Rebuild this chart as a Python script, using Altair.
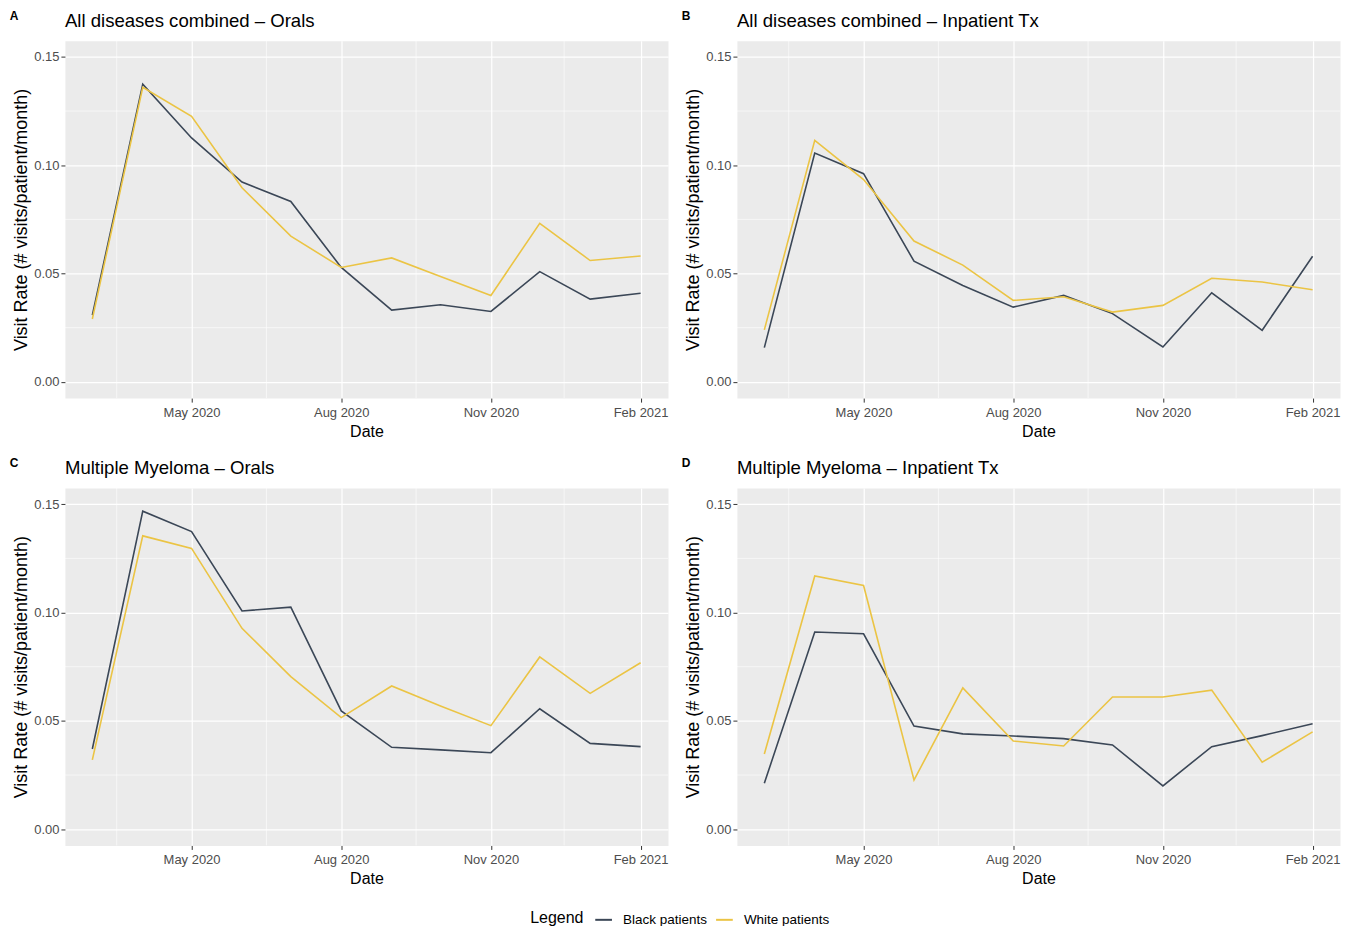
import altair as alt
import pandas as pd

# ---- data -------------------------------------------------------------
months = ["2020-03-01", "2020-04-01", "2020-05-01", "2020-06-01", "2020-07-01",
          "2020-08-01", "2020-09-01", "2020-10-01", "2020-11-01", "2020-12-01",
          "2021-01-01", "2021-02-01"]

a_black = [0.0308, 0.1374, 0.1126, 0.0922, 0.0833, 0.0528, 0.0331, 0.0356, 0.0325, 0.0509, 0.0382, 0.0409]
a_white = [0.0290, 0.1360, 0.1226, 0.0896, 0.0673, 0.0528, 0.0572, 0.0486, 0.0399, 0.0732, 0.0560, 0.0581]

b_black = [0.0158, 0.1056, 0.0961, 0.0557, 0.0445, 0.0345, 0.0399, 0.0315, 0.0161, 0.0411, 0.0238, 0.0580]
b_white = [0.0240, 0.1115, 0.0934, 0.0650, 0.0539, 0.0376, 0.0393, 0.0322, 0.0353, 0.0478, 0.0461, 0.0425]

c_black = [0.0370, 0.1468, 0.1374, 0.1007, 0.1025, 0.0546, 0.0378, 0.0366, 0.0353, 0.0556, 0.0396, 0.0381]
c_white = [0.0320, 0.1354, 0.1296, 0.0927, 0.0704, 0.0515, 0.0661, 0.0569, 0.0478, 0.0795, 0.0627, 0.0768]

d_black = [0.0212, 0.0910, 0.0902, 0.0476, 0.0440, 0.0430, 0.0418, 0.0389, 0.0200, 0.0381, 0.0432, 0.0487]
d_white = [0.0347, 0.1169, 0.1125, 0.0227, 0.0652, 0.0407, 0.0384, 0.0610, 0.0610, 0.0642, 0.0309, 0.0449]

panel_letters = ["A", "B", "C", "D"]
panel_titles = ["All diseases combined \u2013 Orals",
                "All diseases combined \u2013 Inpatient Tx",
                "Multiple Myeloma \u2013 Orals",
                "Multiple Myeloma \u2013 Inpatient Tx"]
series_names = ["Black patients", "White patients"]
series_colors = ["#3B4757", "#EBC444"]

x_tick_dates = ["2020-05-01", "2020-08-01", "2020-11-01", "2021-02-01"]
x_minor_dates = ["2020-03-16", "2020-06-16", "2020-09-16", "2020-12-16"]
y_ticks = [0.0, 0.05, 0.10, 0.15]
y_minor = [0.025, 0.075, 0.125]
y_limits = [0.0, 0.15]

# ---- helpers ----------------------------------------------------------
FONT = "Liberation Sans"


def ms(s):
    return int(pd.Timestamp(s, tz="UTC").value // 10**6)


t0, t1 = ms(months[0]), ms(months[-1])
pad = 0.05 * (t1 - t0)
x_domain = [t0 - pad, t1 + pad]
ypad = 0.05 * (y_limits[1] - y_limits[0])
y_domain = [y_limits[0] - ypad, y_limits[1] + ypad]

W, H = 604, 358

x_scale = alt.Scale(type="utc", domain=x_domain, nice=False)
y_scale = alt.Scale(domain=y_domain, nice=False, zero=False)
color_scale = alt.Scale(domain=series_names, range=series_colors)

x_axis = alt.Axis(title="Date", values=[ms(d) for d in x_tick_dates],
                  labelExpr="utcFormat(datum.value, '%b %Y')", labelFlush=False)
y_axis = alt.Axis(title="Visit Rate (# visits/patient/month)",
                  values=y_ticks, format=".2f")

minor_x_df = pd.DataFrame({"Date": x_minor_dates})
minor_y_df = pd.DataFrame({"Rate": y_minor})


def panel(letter, title, black, white):
    df = pd.DataFrame({
        "Date": months * 2,
        "Rate": black + white,
        "Group": [series_names[0]] * len(months) + [series_names[1]] * len(months),
    })
    vx = alt.Chart(minor_x_df).mark_rule(color="white", strokeWidth=0.6).encode(
        x=alt.X("Date:T", scale=x_scale, axis=x_axis)
    )
    vy = alt.Chart(minor_y_df).mark_rule(color="white", strokeWidth=0.6).encode(
        y=alt.Y("Rate:Q", scale=y_scale, axis=y_axis)
    )
    lines = alt.Chart(df).mark_line(strokeWidth=1.6, clip=True).encode(
        x=alt.X("Date:T", scale=x_scale, axis=x_axis),
        y=alt.Y("Rate:Q", scale=y_scale, axis=y_axis),
        color=alt.Color("Group:N", scale=color_scale,
                        legend=alt.Legend(title="Legend", orient="none",
                                          direction="horizontal",
                                          titleOrient="left",
                                          legendX=466, legendY=871)),
        detail="Group:N",
    )
    lab_df = pd.DataFrame({"letter": [letter], "title": [title]})
    letter_txt = alt.Chart(lab_df).mark_text(
        fontWeight="bold", fontSize=12, font=FONT, align="center", baseline="middle",
        color="black"
    ).encode(text="letter:N", x=alt.value(-51), y=alt.value(-25))
    title_txt = alt.Chart(lab_df).mark_text(
        fontSize=18.6, font=FONT, align="left", baseline="middle", color="black"
    ).encode(text="title:N", x=alt.value(0), y=alt.value(-20))
    return alt.layer(vx, vy, lines, letter_txt, title_txt).properties(
        width=W, height=H,
        view=alt.ViewBackground(fill="#EBEBEB", stroke="transparent"),
    )


pA = panel(panel_letters[0], panel_titles[0], a_black, a_white)
pB = panel(panel_letters[1], panel_titles[1], b_black, b_white)
pC = panel(panel_letters[2], panel_titles[2], c_black, c_white)
pD = panel(panel_letters[3], panel_titles[3], d_black, d_white)

chart = alt.vconcat(
    alt.hconcat(pA, pB, spacing=12),
    alt.hconcat(pC, pD, spacing=12),
    spacing=16,
    padding={"left": 1, "top": 0, "right": 5, "bottom": 5},
    background="white",
).configure_view(
    fill="#EBEBEB", stroke="transparent"
).configure_axis(
    grid=True, gridColor="white", gridWidth=1.2, domain=False,
    tickColor="#333333", tickSize=4, tickWidth=1,
    labelFont=FONT, labelFontSize=13, labelColor="#4D4D4D",
    titleFont=FONT, titleFontWeight="normal", titleColor="black",
).configure_axisX(
    titleFontSize=16, titlePadding=4, labelPadding=4
).configure_axisY(
    titleFontSize=18, titlePadding=3, labelPadding=2
).configure_legend(
    titleFont=FONT, titleFontSize=16, titleFontWeight="normal", titleColor="black",
    labelFont=FONT, labelFontSize=13.5, labelColor="black", labelOffset=10,
    symbolType="stroke", symbolSize=280, symbolStrokeWidth=2,
    columnPadding=4, titlePadding=10,
)

chart.save("out.html", embed_options={"renderer": "svg", "actions": False})
